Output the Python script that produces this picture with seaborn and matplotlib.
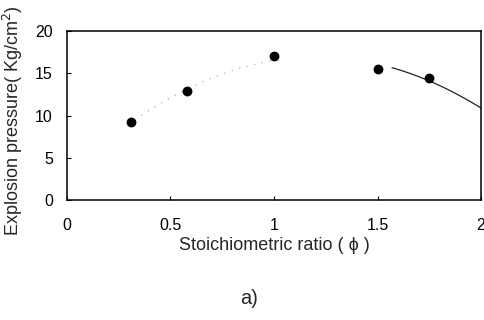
import numpy as np
import pandas as pd
import matplotlib
matplotlib.use("Agg")
import matplotlib.pyplot as plt
import seaborn as sns

# Measured explosion pressure vs. stoichiometric ratio
phi = [0.31, 0.58, 1.00, 1.50, 1.75]
pressure = [9.2, 12.9, 17.0, 15.5, 14.4]

x_ticks = [0, 0.5, 1, 1.5, 2]
x_tick_labels = ["0", "0.5", "1", "1.5", "2"]
y_ticks = [0, 5, 10, 15, 20]

sns.set_theme(style="ticks")
plt.rcParams["font.family"] = ["Liberation Sans", "DejaVu Sans"]

fig = plt.figure(figsize=(4.84, 3.2), dpi=100)
ax = fig.add_axes([0.138, 0.375, 0.856, 0.528])

df = pd.DataFrame({"phi": phi, "pressure": pressure})

# Quadratic trend through the measurements
coef = np.polyfit(phi, pressure, 2)
xs_left = np.linspace(0.36, 1.05, 60)
xs_right = np.linspace(1.57, 2.0, 60)
fit_left = pd.DataFrame({"phi": xs_left, "pressure": np.polyval(coef, xs_left)})
fit_right = pd.DataFrame({"phi": xs_right, "pressure": np.polyval(coef, xs_right)})

sns.lineplot(data=fit_left, x="phi", y="pressure", ax=ax, color="#9a9a9a",
             linewidth=0.8, linestyle=(0, (1, 6)))
sns.lineplot(data=fit_right, x="phi", y="pressure", ax=ax, color="#222222",
             linewidth=0.9)
sns.scatterplot(data=df, x="phi", y="pressure", ax=ax, color="black",
                s=50, edgecolor="black", linewidth=0, zorder=5)

ax.set_xlim(0, 2)
ax.set_ylim(0, 20)
ax.set_xticks(x_ticks)
ax.set_xticklabels(x_tick_labels)
ax.set_yticks(y_ticks)
ax.tick_params(direction="in", length=3, width=0.8, labelsize=11.5,
               colors="black")
ax.tick_params(axis="x", pad=13)
ax.tick_params(axis="y", pad=10)
for side in ["top", "right", "left", "bottom"]:
    ax.spines[side].set_visible(True)
    ax.spines[side].set_linewidth(1.1)
    ax.spines[side].set_color("black")

ax.set_xlabel("Stoichiometric ratio ( \u03d5 )", fontsize=13, labelpad=3)
ax.set_ylabel("Explosion pressure( Kg/cm$^2$)", fontsize=13)
ax.yaxis.set_label_coords(-0.1, 0.47)

fig.text(0.514, 0.066, "a)", ha="center", va="center", fontsize=14.5)

fig.savefig("out.png", dpi=100)
